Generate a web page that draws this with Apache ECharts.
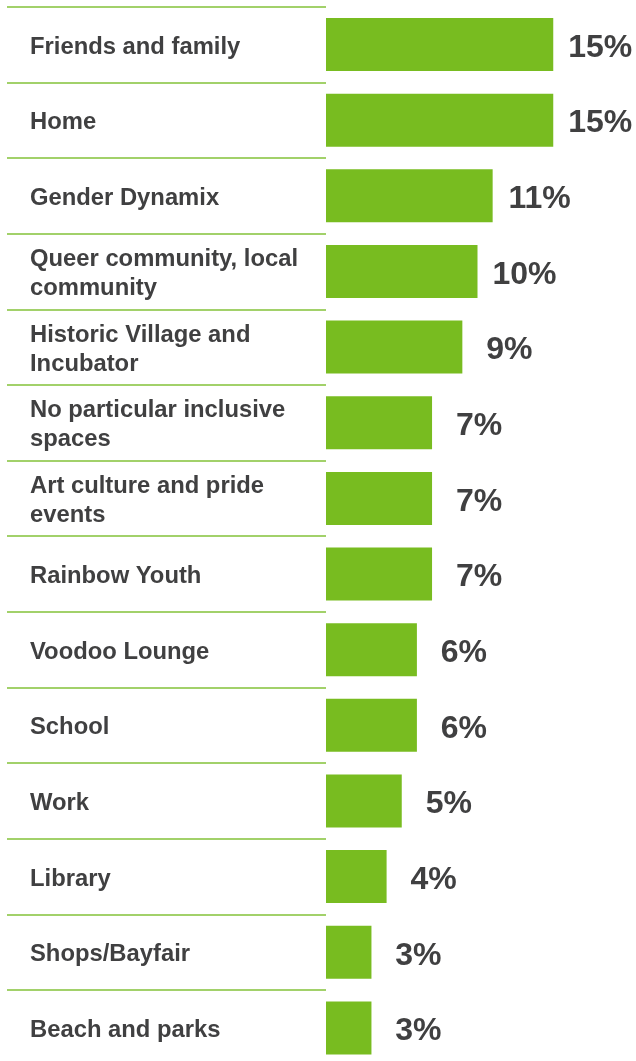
<!DOCTYPE html>
<html>
<head>
<meta charset="utf-8">
<style>
html,body{margin:0;padding:0;background:#fff;}
#chart{width:636px;height:1061px;}
</style>
<script src="https://cdn.jsdelivr.net/npm/echarts@6/dist/echarts.min.js"></script>
</head>
<body>
<div id="chart"></div>
<script>
var categories = [
  "Friends and family",
  "Home",
  "Gender Dynamix",
  "Queer community, local community",
  "Historic Village and Incubator",
  "No particular inclusive spaces",
  "Art culture and pride events",
  "Rainbow Youth",
  "Voodoo Lounge",
  "School",
  "Work",
  "Library",
  "Shops/Bayfair",
  "Beach and parks"
];
var percentValues = [15, 15, 11, 10, 9, 7, 7, 7, 6, 6, 5, 4, 3, 3];

var textColor = '#404041';
var barColor = '#78bc20';
var lineColor = '#84c23a';
var fontFamily = "'Liberation Sans', Arial, Helvetica, sans-serif";

var chart = echarts.init(document.getElementById('chart'), null, {renderer: 'canvas'});
chart.setOption({
  animation: false,
  backgroundColor: '#ffffff',
  grid: {left: 326, top: 6.7, width: 303, height: 1059, containLabel: false, outerBoundsMode: 'none'},
  xAxis: {
    type: 'value', min: 0, max: 20, show: false
  },
  yAxis: {
    type: 'category',
    data: categories,
    inverse: true,
    boundaryGap: true,
    axisLine: {show: false},
    axisTick: {show: true, length: 319, inside: false, lineStyle: {color: lineColor, width: 1.5}},
    splitLine: {show: false},
    axisLabel: {
      interval: 0,
      align: 'left',
      margin: 296,
      color: textColor,
      fontFamily: fontFamily,
      fontWeight: 'bold',
      fontSize: 23.8,
      lineHeight: 29,
      width: 285,
      overflow: 'break',
      formatter: function (v) { return '{t|' + v + '}'; },
      rich: {
        t: {
          color: textColor,
          fontFamily: fontFamily,
          fontWeight: 'bold',
          fontSize: 23.8,
          lineHeight: 29,
          padding: [5, 0, 0, 0]
        }
      }
    }
  },
  series: [{
    type: 'bar',
    data: percentValues,
    barWidth: 53,
    itemStyle: {color: barColor},
    label: {
      show: true,
      position: 'right',
      distance: 47,
      align: 'center',
      verticalAlign: 'middle',
      offset: [0, 3.5],
      formatter: '{c}%',
      color: textColor,
      fontFamily: fontFamily,
      fontWeight: 'bold',
      fontSize: 32
    }
  }]
});
</script>
</body>
</html>
